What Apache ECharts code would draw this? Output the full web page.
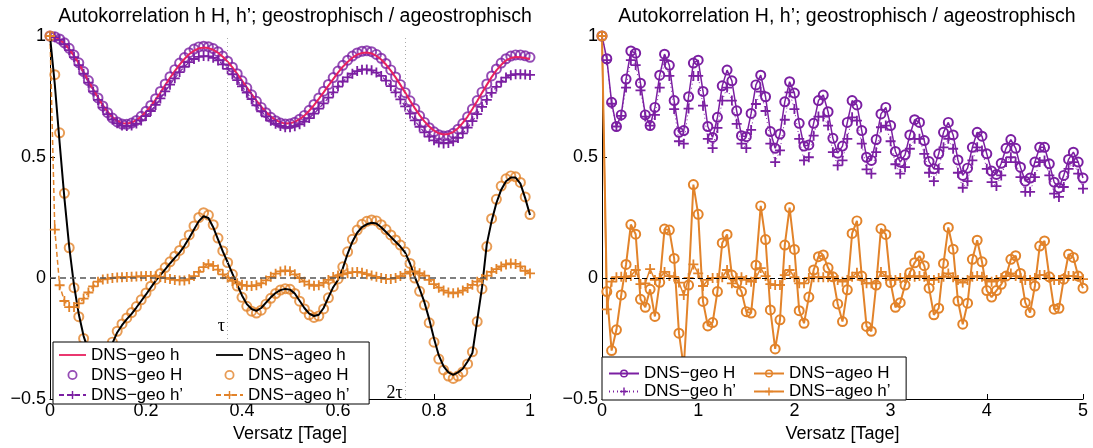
<!DOCTYPE html>
<html>
<head>
<meta charset="utf-8">
<script src="https://cdn.jsdelivr.net/npm/echarts@6/dist/echarts.min.js"></script>
<style>html,body{margin:0;background:#fff}#main{width:1093px;height:448px}</style>
</head>
<body>
<div id="main"></div>
<script>
// left panel: lag 0..1 day, one point every 0.01
const stepL = 0.01;
const geoh_L = [1.0, 0.996, 0.986, 0.969, 0.946, 0.918, 0.886, 0.851, 0.815, 0.780,
  0.746, 0.714, 0.687, 0.665, 0.649, 0.640, 0.638, 0.642, 0.652, 0.667,
  0.687, 0.710, 0.737, 0.766, 0.797, 0.827, 0.855, 0.882, 0.905, 0.925,
  0.939, 0.949, 0.952, 0.950, 0.943, 0.931, 0.914, 0.894, 0.870, 0.844,
  0.816, 0.788, 0.760, 0.733, 0.708, 0.686, 0.667, 0.653, 0.643, 0.638,
  0.639, 0.645, 0.656, 0.671, 0.691, 0.714, 0.740, 0.767, 0.795, 0.822,
  0.849, 0.873, 0.893, 0.910, 0.923, 0.930, 0.932, 0.928, 0.918, 0.903,
  0.882, 0.857, 0.829, 0.798, 0.766, 0.733, 0.702, 0.673, 0.647, 0.626,
  0.609, 0.598, 0.593, 0.595, 0.603, 0.619, 0.641, 0.667, 0.698, 0.731,
  0.765, 0.798, 0.830, 0.858, 0.881, 0.899, 0.909, 0.913, 0.912, 0.909,
  0.905];
const geoH_L = [1.0, 0.997, 0.988, 0.972, 0.949, 0.921, 0.889, 0.853, 0.816, 0.779,
  0.744, 0.711, 0.683, 0.661, 0.645, 0.636, 0.635, 0.640, 0.651, 0.668,
  0.689, 0.713, 0.741, 0.771, 0.802, 0.832, 0.861, 0.888, 0.911, 0.931,
  0.946, 0.955, 0.958, 0.956, 0.948, 0.935, 0.917, 0.896, 0.871, 0.844,
  0.815, 0.786, 0.757, 0.730, 0.705, 0.683, 0.664, 0.650, 0.640, 0.636,
  0.637, 0.644, 0.656, 0.672, 0.693, 0.717, 0.744, 0.772, 0.800, 0.828,
  0.855, 0.879, 0.900, 0.917, 0.930, 0.937, 0.939, 0.935, 0.924, 0.908,
  0.886, 0.860, 0.831, 0.799, 0.766, 0.732, 0.700, 0.670, 0.643, 0.621,
  0.604, 0.592, 0.587, 0.589, 0.598, 0.615, 0.638, 0.666, 0.698, 0.733,
  0.768, 0.802, 0.835, 0.864, 0.888, 0.906, 0.917, 0.922, 0.922, 0.918,
  0.912];
const geohp_L = [1.0, 0.995, 0.984, 0.966, 0.942, 0.913, 0.880, 0.844, 0.807, 0.771,
  0.736, 0.704, 0.677, 0.655, 0.639, 0.630, 0.628, 0.630, 0.638, 0.651,
  0.669, 0.690, 0.715, 0.742, 0.771, 0.799, 0.825, 0.851, 0.873, 0.892,
  0.905, 0.914, 0.917, 0.916, 0.910, 0.899, 0.883, 0.864, 0.842, 0.818,
  0.792, 0.766, 0.739, 0.713, 0.689, 0.668, 0.650, 0.637, 0.628, 0.623,
  0.623, 0.627, 0.635, 0.646, 0.661, 0.679, 0.700, 0.722, 0.745, 0.767,
  0.791, 0.812, 0.829, 0.844, 0.855, 0.861, 0.862, 0.858, 0.849, 0.835,
  0.816, 0.793, 0.767, 0.738, 0.709, 0.679, 0.651, 0.625, 0.602, 0.584,
  0.569, 0.560, 0.556, 0.558, 0.565, 0.579, 0.598, 0.621, 0.648, 0.677,
  0.707, 0.736, 0.765, 0.790, 0.811, 0.828, 0.838, 0.842, 0.842, 0.841,
  0.839];
const ageoh_L = [1.0, 0.80, 0.56, 0.33, 0.13, -0.03, -0.15, -0.24, -0.30, -0.34,
  -0.355, -0.35, -0.32, -0.27, -0.225, -0.195, -0.17, -0.148, -0.122, -0.095,
  -0.068, -0.04, -0.012, 0.012, 0.036, 0.06, 0.083, 0.105, 0.133, 0.165,
  0.2, 0.235, 0.255, 0.248, 0.21, 0.16, 0.11, 0.065, 0.018, -0.028,
  -0.072, -0.108, -0.128, -0.136, -0.124, -0.102, -0.08, -0.062, -0.05, -0.045,
  -0.048, -0.064, -0.094, -0.124, -0.147, -0.157, -0.152, -0.124, -0.08, -0.038,
  -0.008, 0.04, 0.1, 0.15, 0.187, 0.21, 0.222, 0.228, 0.225, 0.21,
  0.19, 0.17, 0.15, 0.13, 0.105, 0.06, 0.005, -0.045, -0.1, -0.17,
  -0.25, -0.32, -0.365, -0.39, -0.40, -0.39, -0.375, -0.345, -0.31, -0.175,
  -0.04, 0.14, 0.235, 0.31, 0.365, 0.4, 0.415, 0.415, 0.39, 0.33,
  0.26];
const ageoH_L = [1.0, 0.84, 0.6, 0.35, 0.125, -0.04, -0.16, -0.25, -0.31, -0.35,
  -0.365, -0.355, -0.32, -0.265, -0.22, -0.19, -0.165, -0.143, -0.118, -0.09,
  -0.062, -0.034, -0.006, 0.019, 0.043, 0.067, 0.09, 0.114, 0.143, 0.178,
  0.215, 0.25, 0.27, 0.26, 0.22, 0.165, 0.112, 0.064, 0.015, -0.033,
  -0.08, -0.117, -0.137, -0.145, -0.133, -0.108, -0.084, -0.064, -0.05, -0.044,
  -0.047, -0.064, -0.096, -0.128, -0.152, -0.163, -0.157, -0.128, -0.082, -0.036,
  -0.004, 0.046, 0.108, 0.16, 0.198, 0.222, 0.234, 0.24, 0.236, 0.22,
  0.2, 0.178, 0.157, 0.136, 0.108, 0.06, 0.0, -0.055, -0.112, -0.185,
  -0.265, -0.335, -0.38, -0.405, -0.415, -0.405, -0.388, -0.355, -0.305, -0.18,
  -0.045, 0.13, 0.245, 0.325, 0.38, 0.41, 0.422, 0.418, 0.395, 0.335,
  0.262];
const ageohp_L = [1.0, 0.2, -0.03, -0.095, -0.12, -0.12, -0.105, -0.085, -0.06, -0.035,
  -0.015, -0.006, -0.003, 0.0, 0.002, 0.003, 0.004, 0.005, 0.006, 0.007,
  0.008, 0.008, 0.007, 0.004, 0.0, -0.004, -0.008, -0.01, -0.01, -0.005,
  0.008, 0.025, 0.045, 0.057, 0.05, 0.035, 0.015, 0.0, -0.012, -0.022,
  -0.028, -0.032, -0.033, -0.03, -0.022, -0.01, 0.005, 0.018, 0.027, 0.031,
  0.028, 0.015, 0.0, -0.015, -0.027, -0.032, -0.03, -0.02, -0.008, 0.004,
  0.01, 0.015, 0.02, 0.024, 0.025, 0.022, 0.016, 0.01, 0.005, 0.0,
  -0.004, -0.004, 0.0, 0.008, 0.018, 0.026, 0.027, 0.02, 0.01, -0.008,
  -0.025, -0.04, -0.052, -0.06, -0.063, -0.06, -0.052, -0.041, -0.028, -0.015,
  -0.004, 0.01, 0.025, 0.037, 0.048, 0.056, 0.06, 0.058, 0.048, 0.03,
  0.019];

// right panel: lag 0..5 days, one point every 0.05
const stepR = 0.05;
const geoH_R = [1.0, 0.906, 0.726, 0.626, 0.674, 0.822, 0.938, 0.929, 0.805, 0.674,
  0.63, 0.705, 0.838, 0.925, 0.879, 0.733, 0.602, 0.609, 0.749, 0.888,
  0.90, 0.771, 0.626, 0.581, 0.664, 0.794, 0.859, 0.815, 0.691, 0.588,
  0.584, 0.68, 0.798, 0.838, 0.749, 0.605, 0.536, 0.595, 0.728, 0.811,
  0.764, 0.639, 0.545, 0.55, 0.639, 0.733, 0.756, 0.687, 0.577, 0.516,
  0.545, 0.643, 0.733, 0.715, 0.609, 0.499, 0.486, 0.572, 0.678, 0.705,
  0.63, 0.523, 0.479, 0.509, 0.591, 0.654, 0.643, 0.568, 0.481, 0.451,
  0.513, 0.602, 0.643, 0.591, 0.488, 0.424, 0.454, 0.54, 0.602, 0.586,
  0.513, 0.442, 0.428, 0.474, 0.536, 0.572, 0.536, 0.458, 0.40, 0.413,
  0.479, 0.54, 0.54, 0.472, 0.396, 0.372, 0.424, 0.49, 0.52, 0.479,
  0.413];
const geohp_R = [1.0, 0.90, 0.72, 0.626, 0.67, 0.787, 0.90, 0.88, 0.775, 0.667,
  0.63, 0.674, 0.787, 0.90, 0.835, 0.698, 0.565, 0.555, 0.70, 0.835,
  0.835, 0.712, 0.575, 0.537, 0.62, 0.733, 0.787, 0.733, 0.637, 0.555,
  0.537, 0.612, 0.719, 0.77, 0.69, 0.555, 0.479, 0.527, 0.654, 0.767,
  0.698, 0.575, 0.486, 0.499, 0.588, 0.667, 0.667, 0.63, 0.52, 0.465,
  0.486, 0.575, 0.664, 0.65, 0.555, 0.449, 0.431, 0.52, 0.623, 0.63,
  0.565, 0.47, 0.431, 0.458, 0.534, 0.575, 0.575, 0.513, 0.435, 0.40,
  0.451, 0.54, 0.575, 0.534, 0.435, 0.373, 0.40, 0.486, 0.54, 0.527,
  0.451, 0.396, 0.38, 0.424, 0.479, 0.499, 0.479, 0.417, 0.356, 0.356,
  0.417, 0.479, 0.486, 0.424, 0.349, 0.335, 0.376, 0.451, 0.479, 0.431,
  0.369];
const ageoH_R = [1.0, -0.056, -0.30, -0.214, -0.07, 0.056, 0.221, 0.181, -0.088, -0.121,
  -0.047, -0.159, -0.018, 0.202, 0.198, 0.081, -0.228, -0.37, -0.029, 0.386,
  0.263, -0.097, -0.198, -0.184, -0.056, 0.145, 0.18, 0.012, -0.02, -0.056,
  -0.139, -0.145, 0.053, 0.298, 0.159, -0.132, -0.293, -0.173, 0.136, 0.291,
  0.118, -0.135, -0.187, -0.079, 0.033, 0.088, 0.095, 0.042, 0.005, -0.107,
  -0.18, -0.049, 0.184, 0.236, 0.008, -0.2, -0.22, -0.029, 0.204, 0.18,
  -0.019, -0.121, -0.102, -0.029, 0.022, 0.063, 0.091, 0.051, -0.042, -0.152,
  -0.125, 0.06, 0.209, 0.119, -0.095, -0.191, -0.104, 0.077, 0.156, 0.067,
  -0.052, -0.079, -0.052, -0.026, 0.008, 0.077, 0.092, 0.019, -0.102, -0.143,
  -0.033, 0.132, 0.153, 0.005, -0.129, -0.125, -0.005, 0.098, 0.085, 0.008,
  -0.042];
const ageohp_R = [1.0, -0.13, -0.015, 0.003, 0.005, 0.003, 0.008, 0.033, -0.025, -0.022,
  0.037, -0.008, 0.0, 0.025, 0.008, 0.005, -0.019, -0.07, 0.0, 0.056,
  0.019, -0.033, -0.008, 0.0, 0.0, 0.003, 0.033, -0.022, 0.0, 0.003,
  -0.008, -0.015, 0.0, 0.041, 0.008, -0.025, -0.029, -0.029, 0.012, 0.033,
  0.003, -0.022, -0.022, 0.0, 0.003, 0.003, 0.003, 0.003, 0.005, -0.008,
  -0.015, -0.008, 0.005, 0.022, -0.008, -0.022, -0.022, -0.022, 0.025, 0.008,
  -0.008, -0.008, 0.0, 0.0, 0.008, 0.005, 0.008, 0.005, -0.008, -0.008,
  0.0, 0.005, 0.019, 0.003, -0.008, -0.019, -0.008, 0.005, 0.008, 0.005,
  -0.008, -0.015, -0.008, 0.0, 0.008, 0.019, 0.008, 0.0, -0.008, -0.008,
  0.0, 0.012, 0.012, 0.0, -0.008, -0.008, 0.0, 0.008, 0.008, 0.005,
  -0.005];

// annotations in the left panel
const tauX = [0.37, 0.74];
const tauText = ['τ', '2τ'];
const tauY = [-0.2, -0.475];

const titles = ['Autokorrelation h H, h’; geostrophisch / ageostrophisch',
                'Autokorrelation H, h’; geostrophisch / ageostrophisch'];

const FONT = 'Liberation Sans, Arial, sans-serif';
const PURPLE = '#7B1FA2', ORANGE = '#E2832A', PINK = '#E8215F';
const RING = 'path://M0,5A5,5 0 1,1 10,5A5,5 0 1,1 0,5ZM1.8,5A3.2,3.2 0 1,0 8.2,5A3.2,3.2 0 1,0 1.8,5Z';
const PLUS = 'path://M4.1,0H5.9V10H4.1ZM0,4.1H10V5.9H0Z';
const DASH = 'path://M0,0H30V2H0Z';

function pts(arr, step) {
  return arr.map((v, i) => [+(i * step).toFixed(2), v]);
}
const minus = v => String(v).replace('-', '\u2212');

function xAx(gi, max, interval) {
  return {
    type: 'value', gridIndex: gi, min: 0, max: max, interval: interval,
    name: 'Versatz [Tage]', nameLocation: 'middle', nameGap: 26,
    nameTextStyle: {fontSize: 18, color: '#000', fontFamily: FONT},
    axisLine: {onZero: false, lineStyle: {color: '#000', width: 1}},
    axisTick: {inside: true, length: 5, lineStyle: {color: '#000'}},
    axisLabel: {fontSize: 18, color: '#000', fontFamily: FONT, margin: 3},
    splitLine: {show: false}
  };
}
function yAx(gi) {
  return {
    type: 'value', gridIndex: gi, min: -0.5, max: 1, interval: 0.5,
    axisLine: {onZero: false, lineStyle: {color: '#000', width: 1}},
    axisTick: {inside: true, length: 5, lineStyle: {color: '#000'}},
    axisLabel: {fontSize: 18, color: '#000', fontFamily: FONT, margin: 4, formatter: minus},
    splitLine: {show: false}
  };
}
const legendText = {fontSize: 17, fontFamily: FONT, color: '#000', lineHeight: 18};

const chart = echarts.init(document.getElementById('main'));
chart.setOption({
  animation: false,
  backgroundColor: '#fff',
  title: [
    {text: titles[0], left: 290, top: 2, textAlign: 'center',
     textStyle: {fontSize: 19.5, fontWeight: 'normal', color: '#000', fontFamily: FONT}},
    {text: titles[1], left: 842, top: 2, textAlign: 'center',
     textStyle: {fontSize: 19.5, fontWeight: 'normal', color: '#000', fontFamily: FONT}}
  ],
  grid: [
    {left: 50, right: 563, top: 36, bottom: 49},
    {left: 602, right: 10, top: 36, bottom: 49}
  ],
  xAxis: [xAx(0, 1, 0.2), xAx(1, 5, 1)],
  yAxis: [yAx(0), yAx(1)],
  legend: [
    {left: 53, top: 342, orient: 'vertical', selectedMode: false,
     data: [{name: 'DNS−geo h', icon: DASH}, 'DNS−geo H', 'DNS−geo h’'],
     itemWidth: 27, itemHeight: 10, itemGap: 2, padding: [4, 186, 0, 5],
     backgroundColor: '#fff', borderColor: '#000', borderWidth: 1,
     textStyle: legendText, z: 10},
    {left: 215, top: 342, orient: 'vertical', selectedMode: false,
     data: [{name: 'DNS−ageo h', icon: DASH}, 'DNS−ageo H', 'DNS−ageo h’'],
     itemWidth: 27, itemHeight: 10, itemGap: 2, padding: [4, 0, 0, 0],
     textStyle: legendText, z: 11},
    {left: 602, top: 357, orient: 'vertical', selectedMode: false,
     data: ['R:DNS−geo H', 'R:DNS−geo h’'], formatter: n => n.replace('R:', ''),
     itemWidth: 30, itemHeight: 10, itemGap: 1, padding: [8, 170, 0, 6],
     backgroundColor: '#fff', borderColor: '#000', borderWidth: 1,
     textStyle: Object.assign({}, legendText, {lineHeight: 17}), z: 10},
    {left: 753, top: 357, orient: 'vertical', selectedMode: false,
     data: ['R:DNS−ageo H', 'R:DNS−ageo h’'], formatter: n => n.replace('R:', ''),
     itemWidth: 30, itemHeight: 10, itemGap: 1, padding: [8, 0, 0, 0],
     textStyle: Object.assign({}, legendText, {lineHeight: 17}), z: 11}
  ],
  series: [
    // left panel
    {name: 'DNS−geo H', type: 'scatter', xAxisIndex: 0, yAxisIndex: 0,
     data: pts(geoH_L, stepL), symbol: RING, symbolSize: 11, itemStyle: {color: PURPLE}},
    {name: 'DNS−geo h’', type: 'line', xAxisIndex: 0, yAxisIndex: 0,
     data: pts(geohp_L, stepL), symbol: PLUS, symbolSize: 10, showSymbol: true,
     itemStyle: {color: PURPLE}, lineStyle: {color: PURPLE, width: 1.2, type: [5, 3]}},
    {name: 'DNS−geo h', type: 'line', xAxisIndex: 0, yAxisIndex: 0,
     data: pts(geoh_L, stepL), symbol: 'none', itemStyle: {color: PINK},
     lineStyle: {color: PINK, width: 2}},
    {name: 'DNS−ageo H', type: 'scatter', xAxisIndex: 0, yAxisIndex: 0,
     data: pts(ageoH_L, stepL), symbol: RING, symbolSize: 11, itemStyle: {color: ORANGE}},
    {name: 'DNS−ageo h’', type: 'line', xAxisIndex: 0, yAxisIndex: 0,
     data: pts(ageohp_L, stepL), symbol: PLUS, symbolSize: 10, showSymbol: true,
     itemStyle: {color: ORANGE}, lineStyle: {color: ORANGE, width: 1.5, type: [5, 3]}},
    {name: 'DNS−ageo h', type: 'line', xAxisIndex: 0, yAxisIndex: 0,
     data: pts(ageoh_L, stepL), symbol: 'none', itemStyle: {color: '#000'},
     lineStyle: {color: '#000', width: 2},
     markLine: {
       silent: true, symbol: ['none', 'none'], label: {show: false},
       data: [
         {yAxis: 0, lineStyle: {color: '#555', width: 1.5, type: [6, 4]}},
         {xAxis: tauX[0], lineStyle: {color: '#aaa', width: 1, type: [1, 3]}},
         {xAxis: tauX[1], lineStyle: {color: '#aaa', width: 1, type: [1, 3]}}
       ]
     },
     markPoint: {
       silent: true, symbol: 'circle', symbolSize: 1, itemStyle: {color: 'rgba(0,0,0,0)'},
       label: {show: true, position: 'left', distance: 2, formatter: '{b}',
               fontSize: 18, color: '#000', fontFamily: 'Liberation Serif, serif'},
       data: tauX.map((x, i) => ({name: tauText[i], coord: [x, tauY[i]]}))
     }},
    // right panel
    {name: 'R:DNS−geo H', type: 'line', xAxisIndex: 1, yAxisIndex: 1,
     data: pts(geoH_R, stepR), symbol: RING, symbolSize: 11, showSymbol: true,
     itemStyle: {color: PURPLE}, lineStyle: {color: PURPLE, width: 1.5}},
    {name: 'R:DNS−geo h’', type: 'line', xAxisIndex: 1, yAxisIndex: 1,
     data: pts(geohp_R, stepR), symbol: PLUS, symbolSize: 10, showSymbol: true,
     itemStyle: {color: PURPLE}, lineStyle: {color: PURPLE, width: 1, type: [1, 3]}},
    {name: 'R:DNS−ageo H', type: 'line', xAxisIndex: 1, yAxisIndex: 1,
     data: pts(ageoH_R, stepR), symbol: RING, symbolSize: 11, showSymbol: true,
     itemStyle: {color: ORANGE}, lineStyle: {color: ORANGE, width: 2}},
    {name: 'R:DNS−ageo h’', type: 'line', xAxisIndex: 1, yAxisIndex: 1,
     data: pts(ageohp_R, stepR), symbol: PLUS, symbolSize: 10, showSymbol: true,
     itemStyle: {color: ORANGE}, lineStyle: {color: ORANGE, width: 1.5},
     markLine: {
       silent: true, symbol: ['none', 'none'], label: {show: false},
       data: [{yAxis: 0, lineStyle: {color: '#000', width: 1, type: [5, 3]}}]
     }}
  ]
});
</script>
</body>
</html>
